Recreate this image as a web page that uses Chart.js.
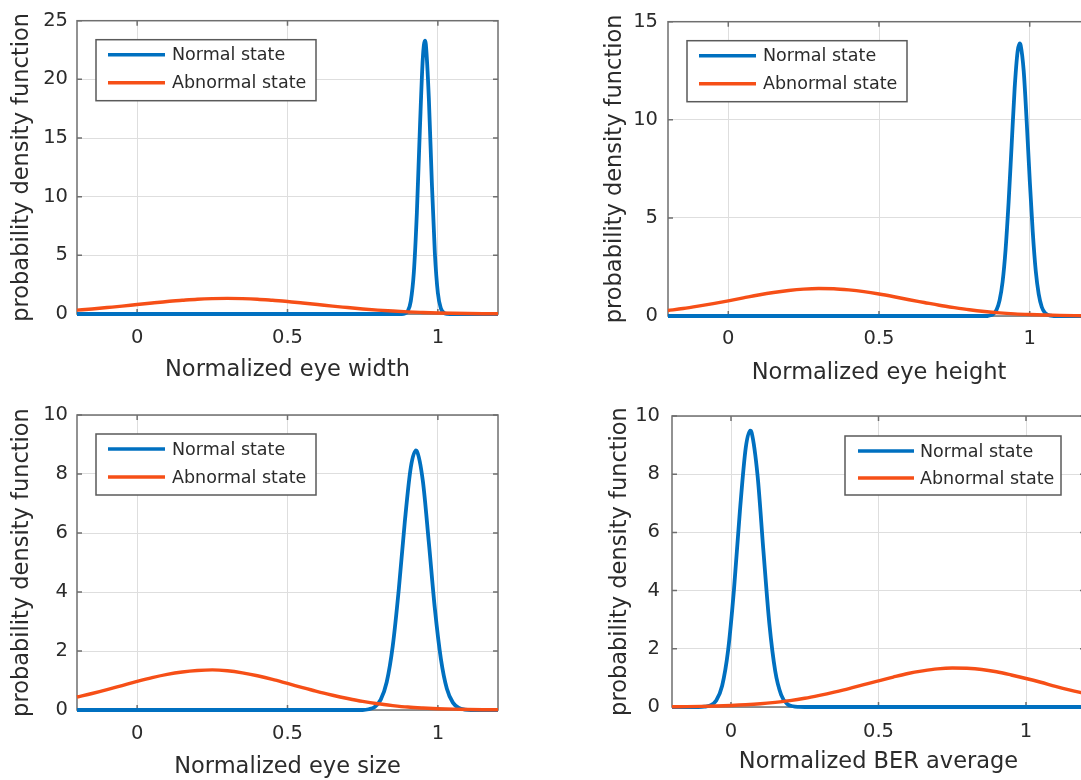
<!DOCTYPE html>
<html>
<head>
<meta charset="utf-8">
<script src="https://cdn.jsdelivr.net/npm/chart.js@4"></script>
<style>
    html, body { margin: 0; padding: 0; background: #fff; }
    #wrap { position: relative; width: 1081px; height: 780px; overflow: hidden; background: #fff; }
    #wrap canvas { position: absolute; }
</style>
</head>
<body>
<div id="wrap">
    <canvas id="chartWidth" width="545" height="392" style="left:0px;top:0px;width:545px;height:392px"></canvas>
    <canvas id="chartHeight" width="560" height="392" style="left:560px;top:0px;width:560px;height:392px"></canvas>
    <canvas id="chartSize" width="545" height="392" style="left:0px;top:392px;width:545px;height:392px"></canvas>
    <canvas id="chartBer" width="560" height="392" style="left:560px;top:392px;width:560px;height:392px"></canvas>
</div>
<script>
// ---- data ----
var xTicks = [0, 0.5, 1];
var widthYTicks = [0, 5, 10, 15, 20, 25];
var heightYTicks = [0, 5, 10, 15];
var sizeYTicks = [0, 2, 4, 6, 8, 10];
var berYTicks = [0, 2, 4, 6, 8, 10];

var seriesNames = ['Normal state', 'Abnormal state'];
var yTitle = 'probability density function';

// sample points shared by the four "Abnormal state" curves
var abnormalX = [-0.2, -0.15, -0.1, -0.05, 0, 0.05, 0.1, 0.15, 0.2, 0.25, 0.3, 0.35, 0.4, 0.45, 0.5,
    0.55, 0.6, 0.65, 0.7, 0.75, 0.8, 0.85, 0.9, 0.95, 1, 1.05, 1.1, 1.15, 1.2];

// Normalized eye width
var widthNormalX = [-0.2, 0.88, 0.89, 0.90, 0.91, 0.92, 0.93, 0.94, 0.95, 0.957, 0.96, 0.97, 0.98, 0.99, 1.00, 1.01, 1.02, 1.03, 1.04, 1.2];
var widthNormalY = [0, 0, 0.04, 0.26, 1.1, 3.5, 8.5, 15.6, 21.8, 23.3, 23.0, 18.4, 11.2, 5.2, 1.8, 0.48, 0.1, 0.01, 0, 0];
var widthAbnormalY = [0.33, 0.43, 0.55, 0.67, 0.81, 0.94, 1.07, 1.17, 1.26, 1.31, 1.33, 1.31, 1.26, 1.17, 1.07,
    0.94, 0.81, 0.67, 0.55, 0.43, 0.33, 0.25, 0.18, 0.13, 0.087, 0.058, 0.038, 0.024, 0.015];

// Normalized eye height
var heightNormalX = [-0.2, 0.86, 0.87, 0.88, 0.89, 0.90, 0.91, 0.92, 0.93, 0.94, 0.95, 0.96, 0.967, 0.97, 0.98, 0.99, 1.00, 1.01, 1.02, 1.03, 1.04, 1.05, 1.06, 1.07, 1.08, 1.2];
var heightNormalY = [0, 0, 0.035, 0.11, 0.32, 0.80, 1.74, 3.4, 5.8, 8.7, 11.6, 13.5, 13.9, 13.8, 12.5, 9.9, 6.95, 4.3, 2.3, 1.1, 0.46, 0.17, 0.056, 0.015, 0, 0];
var heightAbnormalY = [0.28, 0.38, 0.50, 0.63, 0.77, 0.92, 1.07, 1.20, 1.30, 1.37, 1.40, 1.39, 1.33, 1.24, 1.12,
    0.98, 0.83, 0.69, 0.55, 0.43, 0.32, 0.23, 0.16, 0.11, 0.075, 0.048, 0.030, 0.018, 0.011];

// Normalized eye size
var sizeNormalX = [-0.2, 0.75, 0.77, 0.79, 0.81, 0.83, 0.85, 0.87, 0.89, 0.91, 0.927, 0.93, 0.95, 0.97, 0.99, 1.01, 1.03, 1.05, 1.07, 1.09, 1.11, 1.2];
var sizeNormalY = [0, 0, 0.026, 0.10, 0.35, 0.95, 2.17, 4.08, 6.37, 8.22, 8.8, 8.78, 7.77, 5.68, 3.44, 1.74, 0.72, 0.25, 0.07, 0.015, 0, 0];
var sizeAbnormalY = [0.44, 0.56, 0.69, 0.83, 0.97, 1.10, 1.21, 1.29, 1.34, 1.36, 1.33, 1.26, 1.16, 1.04, 0.90,
    0.76, 0.62, 0.50, 0.39, 0.29, 0.21, 0.15, 0.10, 0.068, 0.044, 0.028, 0.017, 0.010, 0.006];

// Normalized BER average
var berNormalX = [-0.2, -0.11, -0.09, -0.07, -0.05, -0.03, -0.01, 0.01, 0.03, 0.05, 0.065, 0.07, 0.09, 0.11, 0.13, 0.15, 0.17, 0.19, 0.21, 0.23, 0.25, 1.2];
var berNormalY = [0, 0, 0.01, 0.055, 0.22, 0.73, 1.93, 4.03, 6.71, 8.91, 9.5, 9.43, 7.96, 5.35, 2.87, 1.23, 0.42, 0.11, 0.025, 0.004, 0, 0];
var berAbnormalY = [0.007, 0.012, 0.020, 0.032, 0.050, 0.075, 0.11, 0.16, 0.22, 0.30, 0.40, 0.51, 0.63, 0.77, 0.90,
    1.03, 1.15, 1.24, 1.31, 1.34, 1.33, 1.29, 1.21, 1.10, 0.98, 0.85, 0.71, 0.58, 0.46];

// ---- styles ----
var BLUE = '#0070C0';
var ORANGE = '#F64F17';
var GRID = '#dedede';
var FRAME = '#6f6f6f';
var TEXT = '#2b2b2b';

Chart.defaults.font.family = '"DejaVu Sans", sans-serif';
Chart.defaults.color = TEXT;

// axes box + inward tick marks under the curves, boxed legend on top
var matlabBox = {
    id: 'matlabBox',
    beforeDatasetsDraw: function (chart) {
        var ctx = chart.ctx;
        var a = chart.chartArea;
        var xs = chart.scales.x;
        var ys = chart.scales.y;
        ctx.save();
        ctx.strokeStyle = FRAME;
        ctx.lineWidth = 1.5;
        ctx.strokeRect(a.left, a.top, a.right - a.left, a.bottom - a.top);
        ctx.beginPath();
        xs.ticks.forEach(function (t) {
            var px = xs.getPixelForValue(t.value);
            ctx.moveTo(px, a.bottom); ctx.lineTo(px, a.bottom - 5);
            ctx.moveTo(px, a.top); ctx.lineTo(px, a.top + 5);
        });
        ys.ticks.forEach(function (t) {
            var py = ys.getPixelForValue(t.value);
            ctx.moveTo(a.left, py); ctx.lineTo(a.left + 5, py);
            ctx.moveTo(a.right, py); ctx.lineTo(a.right - 5, py);
        });
        ctx.stroke();
        ctx.restore();
    },
    afterDatasetsDraw: function (chart, args, opts) {
        var ctx = chart.ctx;
        var a = chart.chartArea;
        var lx = a.left + opts.left;
        var ly = a.top + opts.top;
        ctx.save();
        ctx.fillStyle = '#fff';
        ctx.fillRect(lx, ly, opts.width, opts.height);
        ctx.strokeStyle = '#5a5a5a';
        ctx.lineWidth = 1.5;
        ctx.strokeRect(lx, ly, opts.width, opts.height);
        ctx.font = '17.5px "DejaVu Sans", sans-serif';
        ctx.textBaseline = 'middle';
        ctx.textAlign = 'left';
        chart.data.datasets.forEach(function (ds, i) {
            var ry = ly + opts.rows[i];
            ctx.strokeStyle = ds.borderColor;
            ctx.lineWidth = 3.5;
            ctx.beginPath();
            ctx.moveTo(lx + opts.line[0], ry);
            ctx.lineTo(lx + opts.line[1], ry);
            ctx.stroke();
            ctx.fillStyle = TEXT;
            ctx.fillText(ds.label, lx + opts.text, ry + 1);
        });
        ctx.restore();
    }
};

function toPoints(xs, ys) {
    return xs.map(function (x, i) { return { x: x, y: ys[i] }; });
}

function buildChart(id, xTitle, yTicks, normalX, normalY, abnormalY, lay) {
    var ctx = document.getElementById(id).getContext('2d');
    return new Chart(ctx, {
        type: 'line',
        data: {
            datasets: [
                {
                    label: seriesNames[0],
                    data: toPoints(normalX, normalY),
                    borderColor: BLUE,
                    borderWidth: 3.8,
                    pointRadius: 0,
                    cubicInterpolationMode: 'monotone',
                    clip: 4,
                    order: 1
                },
                {
                    label: seriesNames[1],
                    data: toPoints(abnormalX, abnormalY),
                    borderColor: ORANGE,
                    borderWidth: 3.4,
                    pointRadius: 0,
                    cubicInterpolationMode: 'monotone',
                    clip: 4,
                    order: 0
                }
            ]
        },
        options: {
            responsive: false,
            animation: false,
            events: [],
            layout: { padding: { top: lay.top, right: lay.right, left: 0, bottom: 0 } },
            plugins: {
                legend: { display: false },
                tooltip: { enabled: false },
                matlabBox: lay.legend
            },
            scales: {
                x: {
                    type: 'linear',
                    min: -0.2,
                    max: 1.2,
                    afterBuildTicks: function (s) { s.ticks = xTicks.map(function (v) { return { value: v }; }); },
                    afterFit: function (s) { s.height = lay.xh; },
                    grid: { color: GRID, lineWidth: 1, drawTicks: false },
                    border: { display: false },
                    ticks: { padding: lay.xtp, font: { size: 19.5 }, color: TEXT, callback: function (v) { return String(v); } },
                    title: { display: true, text: xTitle, color: TEXT, font: { size: 22.5 }, padding: { top: 0, bottom: lay.xtt } }
                },
                y: {
                    type: 'linear',
                    min: 0,
                    max: yTicks[yTicks.length - 1],
                    afterBuildTicks: function (s) { s.ticks = yTicks.map(function (v) { return { value: v }; }); },
                    afterFit: function (s) { s.width = lay.yw; },
                    grid: { color: GRID, lineWidth: 1, drawTicks: false },
                    border: { display: false },
                    ticks: { padding: lay.ytp, font: { size: 19.5 }, color: TEXT, callback: function (v) { return String(v); } },
                    title: { display: true, text: yTitle, color: TEXT, font: { size: 22.5 }, padding: { top: lay.ytt, bottom: 0 } }
                }
            }
        },
        plugins: [matlabBox]
    });
}

var legendLeft = { left: 19, top: 19, width: 220, height: 61, rows: [15, 43], line: [12, 69], text: 76 };
var legendRight = { left: 173, top: 20, width: 216, height: 59, rows: [15, 42], line: [13, 69], text: 75 };

buildChart('chartWidth', 'Normalized eye width', widthYTicks, widthNormalX, widthNormalY, widthAbnormalY,
    { top: 19, right: 47, yw: 77, xh: 78, ytp: 9, ytt: 8.5, xtp: 12.3, xtt: 8.5, legend: legendLeft });
buildChart('chartHeight', 'Normalized eye height', heightYTicks, heightNormalX, heightNormalY, heightAbnormalY,
    { top: 19, right: 30, yw: 108, xh: 76, ytp: 10, ytt: 41.5, xtp: 11.3, xtt: 5.5, legend: legendLeft });
buildChart('chartSize', 'Normalized eye size', sizeYTicks, sizeNormalX, sizeNormalY, sizeAbnormalY,
    { top: 23, right: 47, yw: 77, xh: 74, ytp: 9, ytt: 8.5, xtp: 12.3, xtt: 3.5, legend: legendLeft });
buildChart('chartBer', 'Normalized BER average', berYTicks, berNormalX, berNormalY, berAbnormalY,
    { top: 24, right: 35, yw: 112, xh: 77, ytp: 12, ytt: 46.5, xtp: 13.3, xtt: 8.5, legend: legendRight });
</script>
</body>
</html>
